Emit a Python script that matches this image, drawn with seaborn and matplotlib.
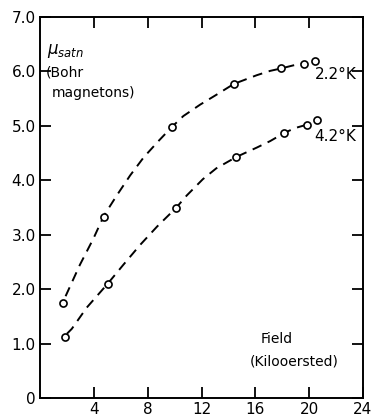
import numpy as np
import pandas as pd
import matplotlib
matplotlib.use("Agg")
import matplotlib.pyplot as plt
import seaborn as sns

# measured points
field_22 = [1.7, 4.75, 9.8, 14.4, 17.9, 19.6, 20.4]
mu_22 = [1.75, 3.32, 4.98, 5.77, 6.06, 6.13, 6.19]
field_42 = [1.88, 5.03, 10.1, 14.6, 18.15, 19.85, 20.6]
mu_42 = [1.12, 2.10, 3.49, 4.43, 4.87, 5.01, 5.10]

# hand-drawn dashed curves
curve_x_22 = [1.9, 2.97, 3.97, 4.75, 5.7, 6.7, 7.7, 8.8, 9.8, 10.65, 11.9, 13.1, 14.4, 16.1, 17.1, 18.0, 18.8, 19.6]
curve_y_22 = [1.87, 2.45, 2.93, 3.35, 3.72, 4.09, 4.42, 4.72, 4.98, 5.18, 5.39, 5.57, 5.77, 5.93, 6.01, 6.06, 6.11, 6.15]
curve_x_42 = [2.0, 2.36, 3.47, 5.03, 6.2, 7.43, 8.7, 10.1, 10.9, 12.1, 13.1, 14.6, 16.1, 17.1, 18.15, 18.96, 19.8]
curve_y_42 = [1.18, 1.27, 1.66, 2.10, 2.45, 2.81, 3.15, 3.49, 3.72, 4.02, 4.22, 4.43, 4.60, 4.72, 4.87, 4.96, 5.02]

x_ticks = [4, 8, 12, 16, 20, 24]
y_ticks = [0, 1, 2, 3, 4, 5, 6, 7]
y_tick_labels = ["0", "1.0", "2.0", "3.0", "4.0", "5.0", "6.0", "7.0"]

sns.set_style("ticks")
plt.rcParams["font.family"] = ["DejaVu Sans"]
plt.rcParams["text.color"] = "black"
plt.rcParams["xtick.color"] = "black"
plt.rcParams["ytick.color"] = "black"
plt.rcParams["xtick.labelcolor"] = "black"
plt.rcParams["ytick.labelcolor"] = "black"

fig = plt.figure(figsize=(3.73, 4.16), dpi=100)
ax = fig.add_axes([40 / 373, 18 / 416, 323 / 373, 381 / 416])

pts = pd.concat([
    pd.DataFrame({"field": field_22, "mu": mu_22, "T": "2.2"}),
    pd.DataFrame({"field": field_42, "mu": mu_42, "T": "4.2"}),
])
curves = pd.concat([
    pd.DataFrame({"field": curve_x_22, "mu": curve_y_22, "T": "2.2"}),
    pd.DataFrame({"field": curve_x_42, "mu": curve_y_42, "T": "4.2"}),
])

for t in ["2.2", "4.2"]:
    sub = curves[curves["T"] == t]
    sns.lineplot(data=sub, x="field", y="mu", sort=False, ax=ax, color="black",
                 linewidth=1.4, dashes=False, linestyle=(0, (5, 3.5)), legend=False)

sns.scatterplot(data=pts, x="field", y="mu", ax=ax, marker="o", s=26,
                facecolor="white", edgecolor="black", linewidth=1.2, legend=False, zorder=5)

ax.set_xlim(0, 24)
ax.set_ylim(0, 7)
ax.set_xticks(x_ticks)
ax.set_xticklabels([str(v) for v in x_ticks], fontsize=11)
ax.set_yticks(y_ticks)
ax.set_yticklabels(y_tick_labels, fontsize=11)
ax.set_xlabel("")
ax.set_ylabel("")
ax.tick_params(direction="in", length=8, width=1.3, top=True, right=True, pad=3)
for s in ax.spines.values():
    s.set_linewidth(1.4)
    s.set_color("black")

ax.text(0.55, 6.38, r"$\mu_{satn}$", fontsize=12, ha="left", va="center")
ax.text(0.45, 5.98, "(Bohr", fontsize=10, ha="left", va="center")
ax.text(0.9, 5.6, "magnetons)", fontsize=10, ha="left", va="center")
ax.text(23.5, 5.95, "2.2°K", fontsize=11, ha="right", va="center")
ax.text(23.5, 4.8, "4.2°K", fontsize=11, ha="right", va="center")
ax.text(16.4, 1.09, "Field", fontsize=10, ha="left", va="center")
ax.text(15.6, 0.67, "(Kilooersted)", fontsize=10, ha="left", va="center")

fig.savefig("out.png", dpi=100)
